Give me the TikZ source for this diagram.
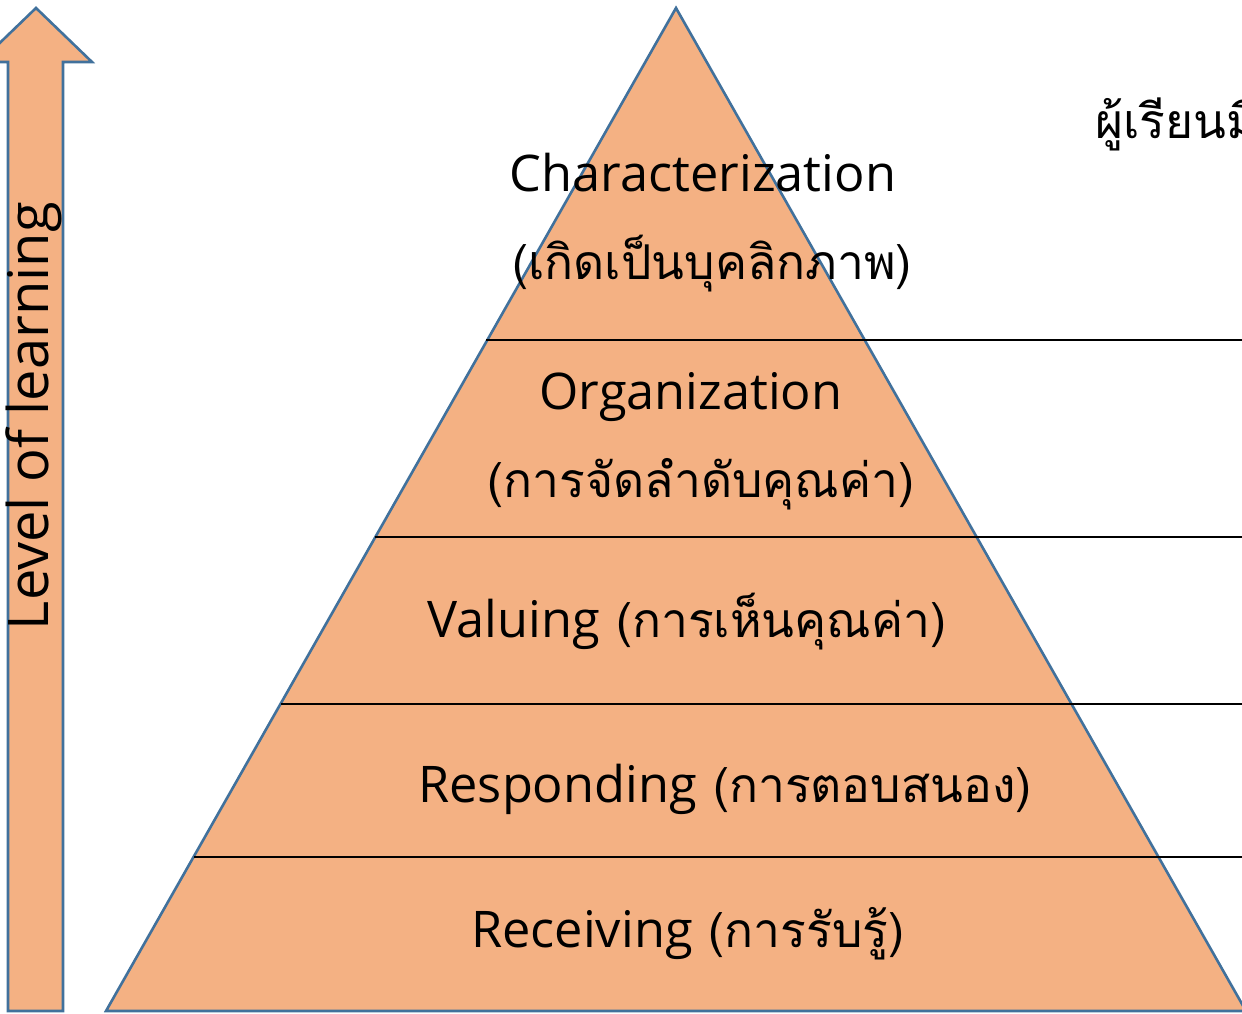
\documentclass[tikz,border=0pt]{standalone}
\usepackage{fontspec}
\newfontfamily\thaifont[Script=Thai]{Loma}
\newfontfamily\latfont{Open Sans}
\newcommand{\lt}[1]{{\latfont\fontsize{50.5}{58}\selectfont #1}}
\definecolor{fillor}{HTML}{F4B183}
\definecolor{edgeb}{HTML}{41719C}
\begin{document}
\begin{tikzpicture}[x=1pt,y=-1pt,
  orshape/.style={fill=fillor,draw=edgeb,line width=2.6pt,line join=miter},
  sep/.style={draw=black,line width=1.3pt},
  lbl/.style={font=\thaifont\fontsize{48}{56}\selectfont,inner sep=0pt,anchor=base}]
\useasboundingbox (0,0) rectangle (1242,1013);
% arrow
\draw[orshape] (36,8) -- (92,62) -- (63,62) -- (63,1011) -- (8,1011) -- (8,62) -- (-20,62) -- cycle;
\node[lbl,rotate=90,anchor=center] (lev) at (34,416) {{\latfont\fontsize{56}{64}\selectfont Level of learning}};
% pyramid
\coordinate (apex) at (676,8);
\coordinate (bl) at (106,1011);
\coordinate (br) at (1246,1011);
\draw[orshape] (apex) -- (bl) -- (br) -- cycle;
\coordinate (l1) at (486,340); \coordinate (r1) at (1242,340);
\coordinate (l2) at (375,537); \coordinate (r2) at (1242,537);
\coordinate (l3) at (281,704); \coordinate (r3) at (1242,704);
\coordinate (l4) at (194,857); \coordinate (r4) at (1242,857);
\draw[sep] (l1) -- (r1);
\draw[sep] (l2) -- (r2);
\draw[sep] (l3) -- (r3);
\draw[sep] (l4) -- (r4);
\node[lbl] (c1) at (703,191) {\lt{Characterization}};
\node[lbl] (c2) at (712,279) {(เกิดเป็นบุคลิกภาพ)};
\node[lbl] (o1) at (691,409) {\lt{Organization}};
\node[lbl] (o2) at (701,497) {(การจัดลำดับคุณค่า)};
\node[lbl] (v1) at (687,637) {\lt{Valuing} (การเห็นคุณค่า)};
\node[lbl] (r1t) at (725,802) {\lt{Responding} (การตอบสนอง)};
\node[lbl] (rc) at (688,947) {\lt{Receiving} (การรับรู้)};
\node[lbl,anchor=base west] (top) at (1095,138) {ผู้เรียนมี};
\end{tikzpicture}
\end{document}
